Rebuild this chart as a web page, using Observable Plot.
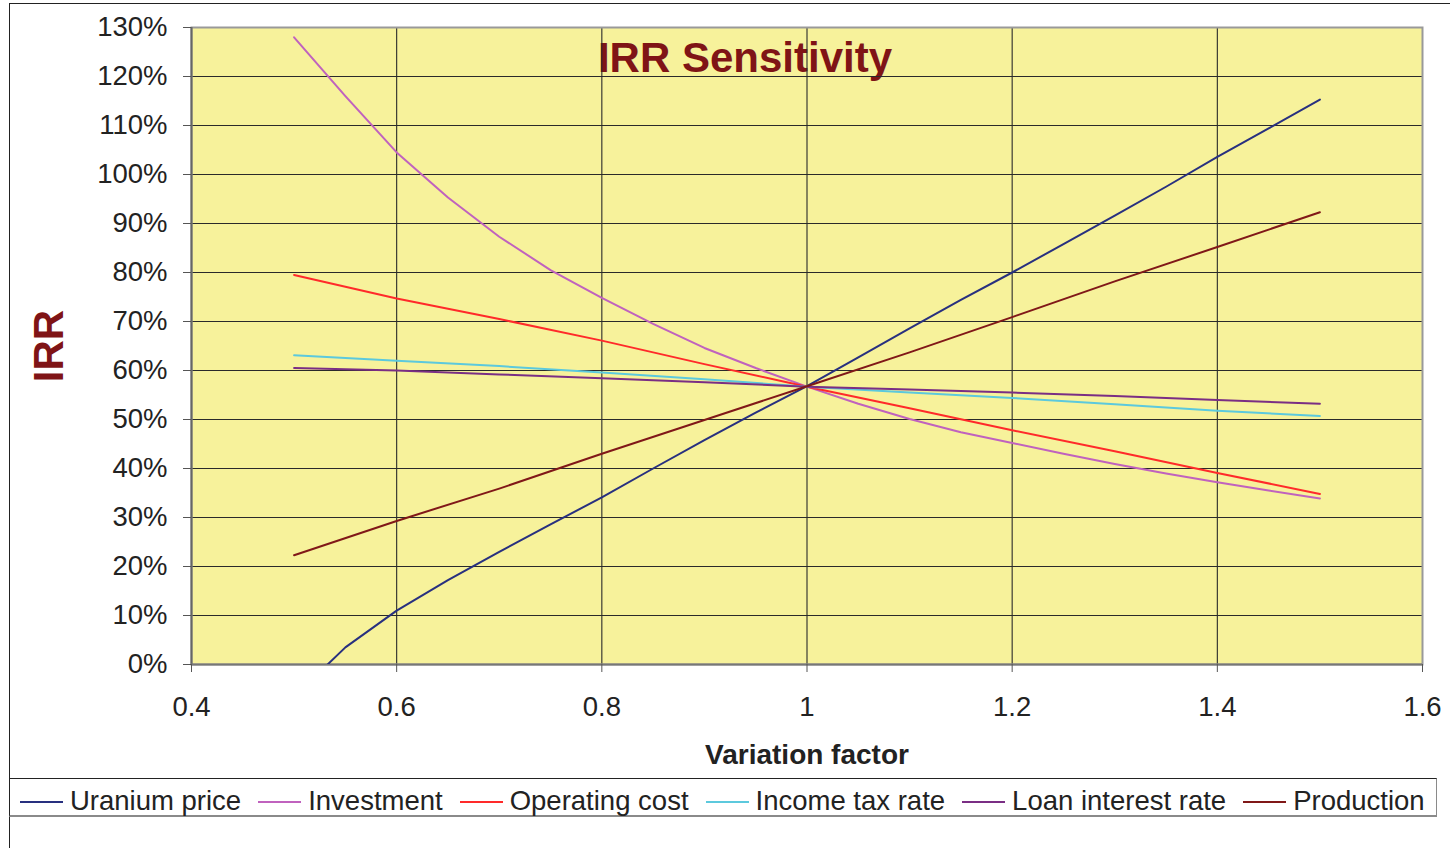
<!DOCTYPE html>
<html>
<head>
<meta charset="utf-8">
<script src="https://cdn.jsdelivr.net/npm/d3@7"></script>
<script src="https://cdn.jsdelivr.net/npm/@observablehq/plot@0.6"></script>
<style>
  body { margin: 0; background: #fff; }
  #wrap { position: relative; width: 1450px; height: 848px; overflow: hidden; font-family: "Liberation Sans", Arial, sans-serif; }
  #outer { position: absolute; left: 9px; top: 3px; width: 1500px; height: 900px; border-top: 1.5px solid #222; border-left: 1.5px solid #222; }
  #chart { position: absolute; left: 0; top: 0; }
  #legend { position: absolute; left: 9px; top: 778px; width: 1428px; box-sizing: border-box; border-top: 1.5px solid #222; border-bottom: 2px solid #8a8a8a; border-right: 1px solid #8a8a8a; border-left: 1.5px solid #222; padding: 7px 0 0 10px; height: 39px; display: flex; font-size: 27.5px; line-height: 30px; color: #222; white-space: nowrap; }
  .item { display: flex; align-items: center; margin-right: 17px; }
  .sw { display: inline-block; width: 43px; height: 2px; margin-right: 7px; margin-top: 2px; }
</style>
</head>
<body>
<div id="wrap">
  <div id="outer"></div>
  <div id="chart"></div>
  <div id="legend"></div>
</div>
<script>
// ---- data ----
const title = "IRR Sensitivity";
const xLabel = "Variation factor";
const yLabel = "IRR";
const xTicks = [0.4, 0.6, 0.8, 1.0, 1.2, 1.4, 1.6];
const xTickLabels = ["0.4", "0.6", "0.8", "1", "1.2", "1.4", "1.6"];
const yTicks = [0, 10, 20, 30, 40, 50, 60, 70, 80, 90, 100, 110, 120, 130];
const yTickLabels = ["0%", "10%", "20%", "30%", "40%", "50%", "60%", "70%", "80%", "90%", "100%", "110%", "120%", "130%"];

const seriesNames = ["Uranium price", "Investment", "Operating cost", "Income tax rate", "Loan interest rate", "Production"];
const seriesColors = ["#28307F", "#C062BE", "#FF2A2A", "#5CC9DD", "#7A2E84", "#801818"];

const factorsFine = [0.5, 0.55, 0.6, 0.65, 0.7, 0.75, 0.8, 0.85, 0.9, 0.95, 1.0, 1.05, 1.1, 1.15, 1.2, 1.25, 1.3, 1.35, 1.4, 1.45, 1.5];
const factorsCoarse = [0.5, 0.6, 0.7, 0.8, 0.9, 1.0, 1.1, 1.2, 1.3, 1.4, 1.5];

const uraniumPrice = [-6.6, 3.5, 11.0, 17.2, 23.0, 28.6, 34.1, 40.0, 45.8, 51.4, 56.8, 62.7, 68.6, 74.4, 80.0, 85.8, 91.6, 97.5, 103.6, 109.4, 115.3];
const investment = [128.0, 116.0, 104.5, 95.3, 87.3, 80.5, 74.8, 69.5, 64.6, 60.5, 56.7, 53.2, 50.1, 47.4, 45.2, 43.0, 40.9, 39.0, 37.2, 35.5, 33.9];
const operatingCost = [79.5, 74.7, 70.5, 66.1, 61.3, 56.7, 52.3, 47.8, 43.5, 39.1, 34.8];
const incomeTaxRate = [63.1, 62.0, 60.9, 59.6, 58.2, 56.7, 55.5, 54.4, 53.1, 51.8, 50.7];
const loanInterestRate = [60.5, 60.0, 59.2, 58.4, 57.6, 56.7, 56.1, 55.5, 54.8, 54.0, 53.2];
const production = [22.3, 29.3, 35.9, 43.0, 49.9, 56.8, 63.7, 70.9, 78.2, 85.2, 92.3];

const seriesX = [factorsFine, factorsFine, factorsCoarse, factorsCoarse, factorsCoarse, factorsCoarse];
const seriesValues = [uraniumPrice, investment, operatingCost, incomeTaxRate, loanInterestRate, production];

// ---- build table ----
const rows = [];
seriesNames.forEach((name, i) => {
  seriesX[i].forEach((x, j) => rows.push({series: name, factor: x, irr: seriesValues[i][j]}));
});

const font = "'Liberation Sans', Arial, sans-serif";
const darkRed = "#7F1416";

const chart = Plot.plot({
  width: 1450,
  height: 770,
  marginLeft: 191,
  marginRight: 28,
  marginTop: 27,
  marginBottom: 106,
  style: {fontFamily: font, fontSize: "27.5px", color: "#222", background: "transparent", overflow: "visible"},
  x: {domain: [0.4, 1.6], axis: null, label: null},
  y: {domain: [0, 130], axis: null, label: null},
  color: {domain: seriesNames, range: seriesColors},
  marks: [
    Plot.frame({fill: "#F7F29B", stroke: "none"}),
    Plot.text([title], {frameAnchor: "top", dx: -62, dy: 31, lineAnchor: "middle", fontSize: 42, fontWeight: "bold", fill: darkRed, text: d => d}),
    Plot.gridY(yTicks.slice(1, -1), {stroke: "#2a2a2a", strokeOpacity: 1, strokeWidth: 1.1}),
    Plot.gridX(xTicks.slice(1, -1), {stroke: "#2a2a2a", strokeOpacity: 1, strokeWidth: 1.1}),
    Plot.frame({stroke: "#999", strokeWidth: 2}),
    Plot.ruleX([0.4], {stroke: "#666", strokeWidth: 2}),
    Plot.ruleY([0], {stroke: "#777", strokeWidth: 2}),
    Plot.axisY(yTicks, {label: null, tickSize: 8, tickPadding: 16, stroke: "#555", tickFormat: (d, i) => yTickLabels[i], fontSize: 27.5, fill: "#222"}),
    Plot.axisX(xTicks, {label: null, tickSize: 8, tickPadding: 24, stroke: "#555", tickFormat: (d, i) => xTickLabels[i], fontSize: 27.5, fill: "#222"}),
    Plot.line(rows, {x: "factor", y: "irr", z: "series", stroke: "series", strokeWidth: 2, clip: true}),
    Plot.text([xLabel], {frameAnchor: "bottom", dy: 91, lineAnchor: "middle", fontSize: 28, fontWeight: "bold", fill: "#222", text: d => d}),
    Plot.text([yLabel], {frameAnchor: "left", textAnchor: "middle", dx: -142, rotate: -90, lineAnchor: "middle", fontSize: 42, fontWeight: "bold", fill: darkRed, text: d => d})
  ]
});
document.getElementById("chart").appendChild(chart);

// ---- legend ----
const legend = document.getElementById("legend");
seriesNames.forEach((name, i) => {
  const item = document.createElement("span");
  item.className = "item";
  const sw = document.createElement("span");
  sw.className = "sw";
  sw.style.background = seriesColors[i];
  const label = document.createElement("span");
  label.textContent = name;
  item.appendChild(sw);
  item.appendChild(label);
  legend.appendChild(item);
});
</script>
</body>
</html>
